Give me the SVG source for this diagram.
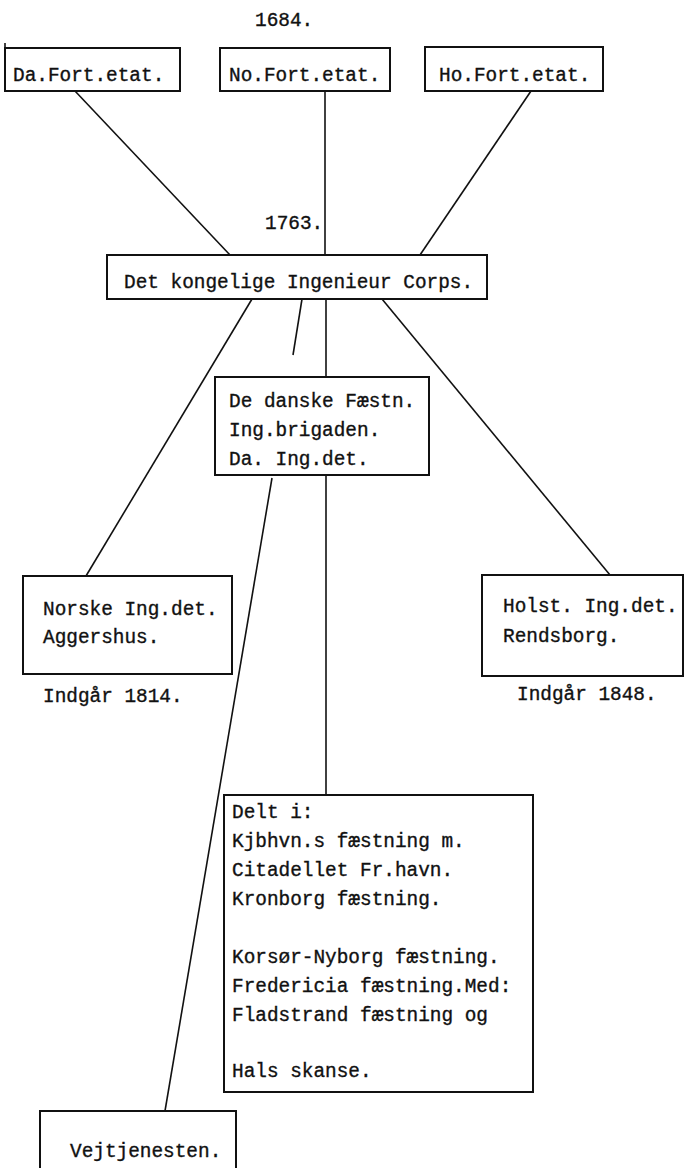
<svg xmlns="http://www.w3.org/2000/svg" width="684" height="1168" viewBox="0 0 684 1168">
<style>
  text { font-family: "Liberation Mono", "DejaVu Sans Mono", monospace; font-size: 19.4px; fill: #111; stroke: #111; stroke-width: 0.35px; }
  .box { fill: none; stroke: #111; stroke-width: 2; }
  .ln { fill: none; stroke: #111; stroke-width: 1.6; }
</style>
<rect width="684" height="1168" fill="#fff"/>
<g id="labels">
  <text x="255" y="26">1684.</text>
  <text x="265" y="229">1763.</text>
  <text x="43" y="702">Indgår 1814.</text>
  <text x="517" y="700">Indgår 1848.</text>
</g>
<g id="connectors">
  <line class="ln" x1="75" y1="91" x2="230" y2="255"/>
  <line class="ln" x1="325" y1="91" x2="325" y2="255"/>
  <line class="ln" x1="531" y1="91" x2="420" y2="255"/>
  <line class="ln" x1="252" y1="299" x2="86" y2="576"/>
  <line class="ln" x1="302" y1="299" x2="293" y2="355"/>
  <line class="ln" x1="326" y1="299" x2="326" y2="377"/>
  <line class="ln" x1="382" y1="299" x2="610" y2="575"/>
  <line class="ln" x1="326" y1="475" x2="326" y2="795"/>
  <line class="ln" x1="272" y1="478" x2="165" y2="1111"/>
</g>
<g id="da-fort">
  <rect class="box" x="5" y="48" width="175" height="43"/>
  <path class="ln" d="M5 43 V56" stroke-width="3"/>
  <text x="13" y="81">Da.Fort.etat.</text>
</g>
<g id="no-fort">
  <rect class="box" x="220" y="48" width="170" height="43"/>
  <text x="229" y="81">No.Fort.etat.</text>
</g>
<g id="ho-fort">
  <rect class="box" x="425" y="47" width="178" height="44"/>
  <text x="439" y="81">Ho.Fort.etat.</text>
</g>
<g id="ingenieur-corps">
  <rect class="box" x="107" y="255" width="380" height="44"/>
  <text x="124" y="288">Det kongelige Ingenieur Corps.</text>
</g>
<g id="danske-faestn">
  <rect class="box" x="215" y="377" width="214" height="98"/>
  <text x="229" y="407">De danske Fæstn.</text>
  <text x="229" y="436">Ing.brigaden.</text>
  <text x="229" y="465">Da. Ing.det.</text>
</g>
<g id="norske">
  <rect class="box" x="23" y="576" width="209" height="98"/>
  <text x="43" y="615">Norske Ing.det.</text>
  <text x="43" y="643">Aggershus.</text>
</g>
<g id="holst">
  <rect class="box" x="482" y="575" width="201" height="101"/>
  <text x="503" y="612">Holst. Ing.det.</text>
  <text x="503" y="642">Rendsborg.</text>
</g>
<g id="delt">
  <rect class="box" x="224" y="795" width="309" height="297"/>
  <text x="232" y="818">Delt i:</text>
  <text x="232" y="847">Kjbhvn.s fæstning m.</text>
  <text x="232" y="876">Citadellet Fr.havn.</text>
  <text x="232" y="905">Kronborg fæstning.</text>
  <text x="232" y="963">Korsør-Nyborg fæstning.</text>
  <text x="232" y="992">Fredericia fæstning.Med:</text>
  <text x="232" y="1021">Fladstrand fæstning og</text>
  <text x="232" y="1077">Hals skanse.</text>
</g>
<g id="vejtjenesten">
  <rect class="box" x="40" y="1111" width="196" height="80"/>
  <text x="70" y="1157">Vejtjenesten.</text>
</g>
</svg>
